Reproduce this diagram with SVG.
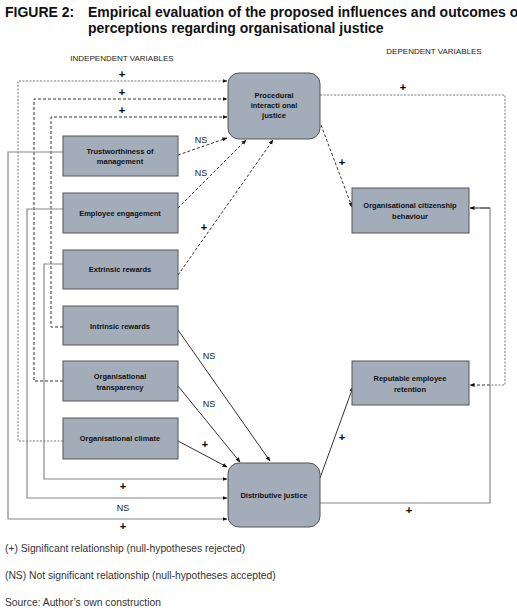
<svg xmlns="http://www.w3.org/2000/svg" width="517" height="615" viewBox="0 0 517 615">
<defs>
<marker id="ah" viewBox="0 0 10 10" refX="9" refY="5" markerWidth="5" markerHeight="5" orient="auto" markerUnits="userSpaceOnUse"><path d="M0,1 L10,5 L0,9 z" fill="#111"/></marker>
</defs>
<style>
.t{font-family:"Liberation Sans",Arial,sans-serif;}
.title{font-size:14px;font-weight:bold;fill:#111;}
.hdr{font-size:8px;fill:#222;}
.box{fill:#a3acb9;stroke:#555;stroke-width:1;}
.bt{font-size:7.5px;font-weight:bold;fill:#111;text-anchor:middle;}
.lbl{font-size:9px;fill:#222;text-anchor:middle;}
.plus{font-size:11px;font-weight:bold;fill:#000;text-anchor:middle;}
.leg{font-size:10.3px;fill:#333;}
.ds{fill:none;stroke:#333;stroke-width:1;stroke-dasharray:3,2;}
.dt{fill:none;stroke:#777;stroke-width:1;stroke-dasharray:2,1.5;}
.sl{fill:none;stroke:#333;stroke-width:1;}
.gl{fill:none;stroke:#888;stroke-width:1.2;}
</style>
<rect width="517" height="615" fill="#fff"/>
<g id="title" class="t">
<text x="5" y="17" class="title t">FIGURE 2:</text>
<text x="88" y="17" class="title t">Empirical evaluation of the proposed influences and outcomes on</text>
<text x="88" y="33" class="title t">perceptions regarding organisational justice</text>
<text x="122" y="61" class="hdr t" text-anchor="middle">INDEPENDENT VARIABLES</text>
<text x="434" y="54" class="hdr t" text-anchor="middle">DEPENDENT VARIABLES</text>
</g>
<g id="connectors">
<path class="dt" d="M63,441 H18 V81 H227" marker-end="url(#ah)"/>
<path class="ds" d="M63,381 H34 V99 H227" marker-end="url(#ah)"/>
<path class="ds" d="M63,327 H51 V117 H227" marker-end="url(#ah)"/>
<path class="ds" d="M178,155 L227,138" marker-end="url(#ah)"/>
<path class="ds" d="M178,208 L246,140" marker-end="url(#ah)"/>
<path class="ds" d="M178,275 L273,140" marker-end="url(#ah)"/>
<path class="gl" d="M63,152 H8 V519 H227" marker-end="url(#ah)"/>
<path class="gl" d="M63,209 H27 V498 H227" marker-end="url(#ah)"/>
<path class="gl" d="M63,264 H44 V479 H227" marker-end="url(#ah)"/>
<path class="sl" d="M178,330 L270,461" marker-end="url(#ah)"/>
<path class="sl" d="M178,386 L240,462" marker-end="url(#ah)"/>
<path class="sl" d="M178,441 L227,467" marker-end="url(#ah)"/>
<path class="ds" d="M321,125 L352,207" marker-end="url(#ah)"/>
<path class="dt" d="M320,95 H505 V385 H490"/>
<path class="ds" d="M490,385 H470" marker-end="url(#ah)"/>
<path class="sl" d="M320,478 L353,387" marker-end="url(#ah)"/>
<path class="gl" d="M320,503 H490 V208 H480"/>
<path class="sl" d="M490,208 H470" marker-end="url(#ah)"/>
</g>
<g id="labels" class="t">
<text x="122" y="78" class="plus t">+</text>
<text x="122" y="96" class="plus t">+</text>
<text x="122" y="114" class="plus t">+</text>
<text x="201" y="143" class="lbl t">NS</text>
<text x="201" y="176" class="lbl t">NS</text>
<text x="204" y="231" class="plus t">+</text>
<text x="403" y="91" class="plus t">+</text>
<text x="342" y="166" class="plus t">+</text>
<text x="209" y="359" class="lbl t">NS</text>
<text x="209" y="407" class="lbl t">NS</text>
<text x="205" y="448" class="plus t">+</text>
<text x="342" y="441" class="plus t">+</text>
<text x="123" y="490" class="plus t">+</text>
<text x="123" y="511" class="lbl t">NS</text>
<text x="123" y="530" class="plus t">+</text>
<text x="409" y="514" class="plus t">+</text>
</g>
<g id="procedural">
<rect class="box" x="228" y="73" width="92" height="66" rx="11"/>
<text class="bt t" x="274" y="98">Procedural</text>
<text class="bt t" x="274" y="108">interacti onal</text>
<text class="bt t" x="274" y="118">justice</text>
</g>
<g id="distributive">
<rect class="box" x="228" y="463" width="92" height="64" rx="11"/>
<text class="bt t" x="274" y="498">Distributive justice</text>
</g>
<g id="trust">
<rect class="box" x="63" y="136" width="115" height="40"/>
<text class="bt t" x="120" y="154">Trustworthiness of</text>
<text class="bt t" x="120" y="164">management</text>
</g>
<g id="engagement">
<rect class="box" x="63" y="193" width="115" height="40"/>
<text class="bt t" x="120" y="216">Employee engagement</text>
</g>
<g id="extrinsic">
<rect class="box" x="63" y="250" width="115" height="39"/>
<text class="bt t" x="120" y="272">Extrinsic rewards</text>
</g>
<g id="intrinsic">
<rect class="box" x="63" y="306" width="115" height="39"/>
<text class="bt t" x="120" y="329">Intrinsic rewards</text>
</g>
<g id="transparency">
<rect class="box" x="63" y="361" width="115" height="40"/>
<text class="bt t" x="120" y="379">Organisational</text>
<text class="bt t" x="120" y="390">transparency</text>
</g>
<g id="climate">
<rect class="box" x="63" y="418" width="115" height="41"/>
<text class="bt t" x="120" y="441">Organisational climate</text>
</g>
<g id="ocb">
<rect class="box" x="352" y="188" width="117" height="45"/>
<text class="bt t" x="410" y="208">Organisational citizenship</text>
<text class="bt t" x="410" y="219">behaviour</text>
</g>
<g id="retention">
<rect class="box" x="352" y="361" width="117" height="44"/>
<text class="bt t" x="410" y="381">Reputable employee</text>
<text class="bt t" x="410" y="392">retention</text>
</g>
<g id="legend" class="t">
<text x="5" y="552" class="leg t">(+) Significant relationship (null-hypotheses rejected)</text>
<text x="5" y="579" class="leg t">(NS) Not significant relationship (null-hypotheses accepted)</text>
<text x="5" y="606" class="leg t">Source: Author’s own construction</text>
</g>
</svg>
